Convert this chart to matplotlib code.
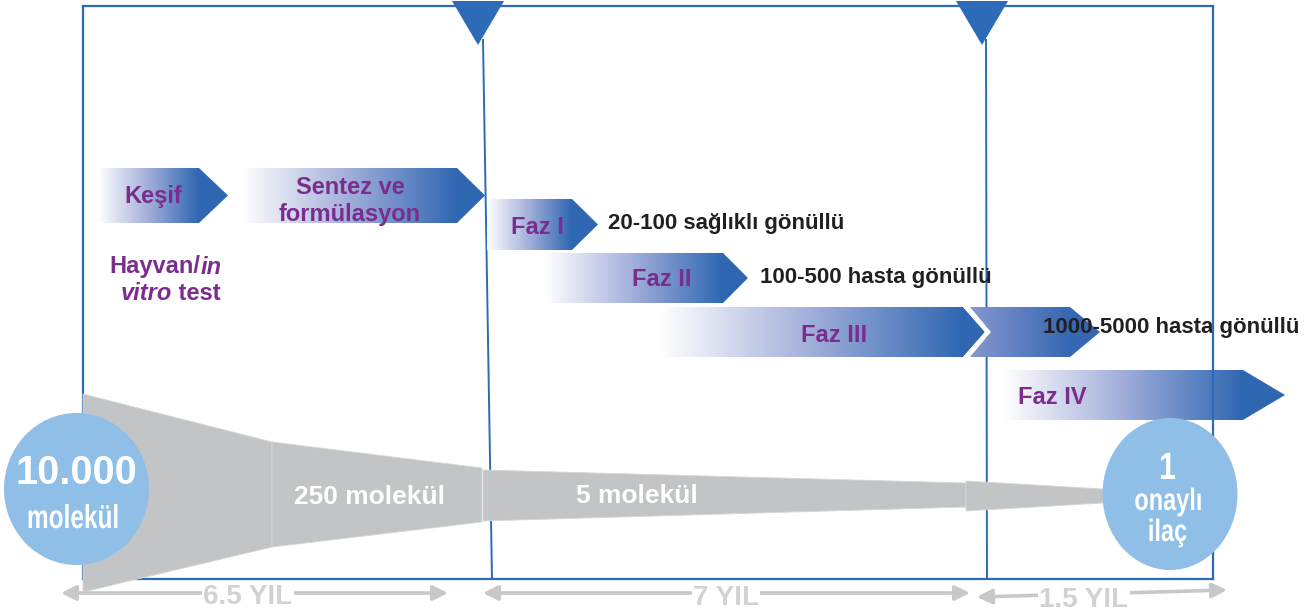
import numpy as np
import matplotlib
matplotlib.use('Agg')
import matplotlib.pyplot as plt
from matplotlib.patches import Polygon, Ellipse, PathPatch
from matplotlib.colors import LinearSegmentedColormap
from matplotlib.textpath import TextPath
from matplotlib.font_manager import FontProperties
from matplotlib.transforms import Affine2D
from matplotlib import font_manager

# labels / values
PHASES = ['Keşif', 'Sentez ve', 'formülasyon', 'Faz I', 'Faz II', 'Faz III', 'Faz IV']
VOLUNTEERS = ['20-100 sağlıklı gönüllü', '100-500 hasta gönüllü', '1000-5000 hasta gönüllü']
MOLECULES = ['10.000', '250', '5', '1']
YEARS = ['6.5', '7', '1.5']

BLUE = '#2d6bb6'
PURPLE = '#7b2d8e'
GRAY = '#c3c4c6'
CIRCLE = '#8fbfe6'
LIGHTGRAY = '#c8c8c8'

names = {f.name for f in font_manager.fontManager.ttflist}
MAIN = 'Liberation Sans' if 'Liberation Sans' in names else 'DejaVu Sans'
plt.rcParams['font.family'] = [MAIN, 'DejaVu Sans']

fig = plt.figure(figsize=(13.14, 6.15), dpi=100)
ax = fig.add_axes([0, 0, 1, 1])


def chevron(x0, y0, y1, xr, xt, c0, c1, notch=0, z=2, mid=None):
    ym = (y0 + y1) / 2
    verts = [(x0, y0), (xr, y0), (xt, ym), (xr, y1), (x0, y1)]
    if notch:
        verts.append((x0 + notch, ym))
    poly = Polygon(verts, closed=True, facecolor='none', edgecolor='none', zorder=z)
    ax.add_patch(poly)
    xs = np.linspace(x0, xt, 400)
    grad = np.clip((xs - x0) / (xr - x0), 0, 1).reshape(1, -1)
    stops = [c0, c1] if mid is None else [(0, c0), (0.5, mid), (1, c1)]
    cmap = LinearSegmentedColormap.from_list('g', stops)
    im = ax.imshow(grad, cmap=cmap, extent=(x0, xt, y1, y0), aspect='auto',
                   interpolation='bilinear', zorder=z, vmin=0, vmax=1)
    im.set_clip_path(poly)


def narrow_text(x, y_base, s, size, xscale=0.8, color='white', z=7):
    # condensed look: squeeze a text path horizontally, y_base is the baseline
    fp = FontProperties(family=MAIN, weight='bold')
    tp = TextPath((0, 0), s, size=size, prop=fp)
    bb = tp.get_extents()
    tr = Affine2D().translate(-(bb.x0 + bb.x1) / 2, 0).scale(xscale, -1).translate(x, y_base)
    ax.add_patch(PathPatch(tr.transform_path(tp), facecolor=color, edgecolor='none', zorder=z))


# frame
ax.plot([83, 1213], [6, 6], color=BLUE, lw=1.6, zorder=1)
ax.plot([83, 83], [6, 579], color=BLUE, lw=1.6, zorder=1)
ax.plot([83, 1213], [579, 579], color=BLUE, lw=1.6, zorder=1)
ax.plot([1213, 1213], [6, 579], color=BLUE, lw=1.6, zorder=5)
ax.plot([483, 492], [40, 579], color=BLUE, lw=1.4, zorder=1)
ax.plot([986, 987], [40, 579], color=BLUE, lw=1.4, zorder=1)
for cx in [478, 982]:
    ax.add_patch(Polygon([(cx - 26, 1), (cx + 26, 1), (cx, 45)], closed=True,
                         facecolor=BLUE, edgecolor='none', zorder=3))

# funnel
segs = [[(83, 394), (272, 442), (272, 547), (83, 592)],
        [(272, 442), (482, 468), (482, 522), (272, 547)],
        [(483, 470), (966, 483), (966, 507), (483, 521)],
        [(966, 481), (1103, 489), (1103, 503), (966, 511)]]
for s in segs:
    ax.add_patch(Polygon(s, closed=True, facecolor=GRAY, edgecolor='#d6d7d9',
                         lw=0.6, zorder=2))

# circles
ax.add_patch(Ellipse((76.5, 489), 145, 152, facecolor=CIRCLE, edgecolor='none', zorder=3))
ax.add_patch(Ellipse((1170, 494), 135, 152, facecolor=CIRCLE, edgecolor='none', zorder=6))

# chevrons
W = '#ffffff'
DB = '#2f67b2'
MID = '#a1aed9'
chevron(98, 168, 223, 199, 228, W, DB, mid=MID)
chevron(241, 168, 223, 457, 485, W, DB, mid=MID)
chevron(487, 199, 250, 572, 598, W, DB, mid=MID)
chevron(545, 253, 303, 723, 748, W, DB, mid=MID)
chevron(660, 307, 357, 963, 985, W, DB, mid=MID)
ax.add_patch(Polygon([(963, 307), (970, 307), (991, 332), (970, 357), (963, 357), (985, 332)],
                     closed=True, facecolor='white', edgecolor='none', zorder=2))
chevron(970, 307, 357, 1070, 1100, '#8797cf', '#3567b2', notch=21)
chevron(1003, 370, 420, 1243, 1285, W, DB, mid=MID)

# purple labels
tk = dict(color=PURPLE, fontsize=17, fontweight='bold', ha='center', va='center', zorder=4)
ax.text(153, 196, PHASES[0], **tk)
ax.text(350, 187, PHASES[1], **tk)
ax.text(350, 215, PHASES[2], **tk)
ax.text(537, 227, PHASES[3], **tk)
ax.text(662, 279, PHASES[4], **tk)
ax.text(834, 335, PHASES[5], **tk)
ax.text(1052, 397, PHASES[6], **tk)

pk = dict(color=PURPLE, fontsize=17, fontweight='bold', va='center', zorder=4)
ax.text(200, 267, 'Hayvan/', ha='right', **pk)
ax.text(201, 267, 'in', ha='left', style='italic', **pk)
ax.text(172, 294, 'vitro', ha='right', style='italic', **pk)
ax.text(172, 294, ' test', ha='left', **pk)

# volunteers
vk = dict(color='#231f20', fontsize=16, fontweight='bold', ha='left', va='center', zorder=4)
ax.text(608, 224, VOLUNTEERS[0], **vk)
ax.text(760, 278, VOLUNTEERS[1], **vk)
ax.text(1043, 327, VOLUNTEERS[2], **vk)

# molecules
wk = dict(color='white', fontweight='bold', ha='center', va='center', zorder=7)
ax.text(76, 473, MOLECULES[0], fontsize=28.5, **wk)
narrow_text(73, 528, 'molekül', 33, xscale=0.74)
ax.text(370, 497, MOLECULES[1] + ' molekül', fontsize=19, **wk)
ax.text(637, 496, MOLECULES[2] + ' molekül', fontsize=19, **wk)
narrow_text(1168, 479, MOLECULES[3], 38, xscale=0.8)
narrow_text(1168, 510, 'onaylı', 31, xscale=0.76)
narrow_text(1168, 541, 'ilaç', 31, xscale=0.76)

# year arrows
arrows = [((61, 593), (448, 593), (248, 597)),
          ((483, 593), (970, 593), (726, 598)),
          ((977, 597), (1227, 590), (1084, 600))]
for (a, b, t), yr in zip(arrows, YEARS):
    ax.annotate('', xy=b, xytext=a,
                arrowprops=dict(arrowstyle='<|-|>', color=LIGHTGRAY, lw=2.6,
                                mutation_scale=22, shrinkA=0, shrinkB=0), zorder=3)
    ax.text(t[0], t[1], yr + ' YIL', color='#d2d2d2', fontsize=20, fontweight='bold',
            ha='center', va='center', zorder=4,
            bbox=dict(facecolor='white', edgecolor='none', pad=1))

ax.set_xlim(0, 1314)
ax.set_ylim(615, 0)
ax.axis('off')
fig.savefig('out.png', dpi=100)
